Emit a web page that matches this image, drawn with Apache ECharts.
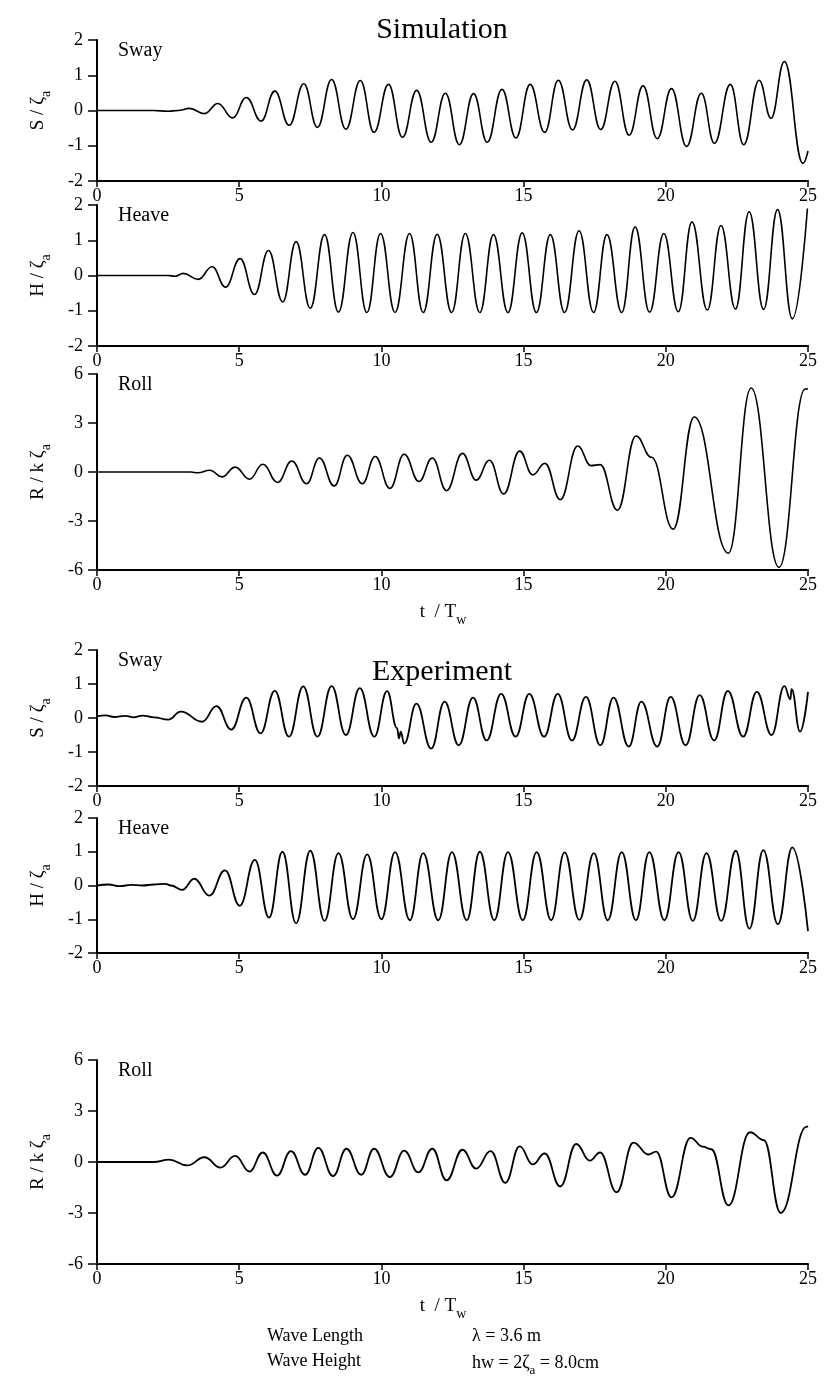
<!DOCTYPE html>
<html>
<head>
<meta charset="utf-8">
<script src="https://cdn.jsdelivr.net/npm/echarts@6/dist/echarts.min.js"></script>
<style>
  html, body { margin: 0; padding: 0; background: #fff; }
  #chart { width: 828px; height: 1386px; }
</style>
</head>
<body>
<div id="chart"></div>
<script>
// time axis t / Tw
const tTicks = { min: 0, max: 25, interval: 5 };

// peaks / troughs, [t/Tw, value]
const simSway = [
  [0, 0], [2.0, 0], [2.5, -0.02], [2.85, 0], [3.25, 0.06], [3.78, -0.09], [4.25, 0.2], [4.77, -0.21],
  [5.25, 0.37], [5.77, -0.3], [6.25, 0.55], [6.76, -0.42], [7.27, 0.76], [7.75, -0.48], [8.25, 0.88],
  [8.75, -0.53], [9.26, 0.85], [9.74, -0.62], [10.25, 0.74], [10.74, -0.76], [11.24, 0.57], [11.75, -0.9],
  [12.25, 0.49], [12.74, -0.97], [13.24, 0.48], [13.72, -0.9], [14.24, 0.6], [14.73, -0.78], [15.23, 0.74],
  [15.74, -0.62], [16.22, 0.86], [16.72, -0.55], [17.22, 0.87], [17.71, -0.54], [18.21, 0.83], [18.71, -0.7],
  [19.2, 0.7], [19.7, -0.8], [20.2, 0.62], [20.73, -1.02], [21.25, 0.49], [21.71, -0.93], [22.27, 0.74],
  [22.74, -0.97], [23.28, 0.86], [23.7, -0.22], [24.17, 1.39], [24.82, -1.5], [25, -1.15]
];
const simHeave = [
  [0, 0], [2.5, 0], [2.75, -0.02], [3.03, 0.06], [3.56, -0.11], [4.05, 0.25], [4.52, -0.33], [5.03, 0.48],
  [5.54, -0.54], [6.03, 0.71], [6.53, -0.75], [7.0, 0.96], [7.5, -0.93], [8.0, 1.16], [8.49, -1.04],
  [9.0, 1.22], [9.49, -1.05], [9.97, 1.19], [10.48, -1.05], [10.99, 1.19], [11.47, -1.05], [11.96, 1.17],
  [12.47, -1.05], [12.95, 1.19], [13.46, -1.05], [13.94, 1.16], [14.45, -1.05], [14.95, 1.21], [15.45, -1.05],
  [15.94, 1.16], [16.44, -1.05], [16.95, 1.27], [17.46, -1.05], [17.93, 1.16], [18.45, -1.05], [18.92, 1.38],
  [19.43, -1.04], [19.93, 1.19], [20.44, -1.03], [20.92, 1.52], [21.46, -0.98], [21.94, 1.42], [22.45, -0.95],
  [22.93, 1.81], [23.44, -0.96], [23.93, 1.87], [24.45, -1.23], [24.98, 1.9]
];
const simRoll = [
  [0, 0], [3.3, 0], [3.55, -0.05], [3.97, 0.11], [4.39, -0.3], [4.86, 0.3], [5.36, -0.44], [5.83, 0.47],
  [6.35, -0.64], [6.85, 0.67], [7.37, -0.72], [7.82, 0.86], [8.34, -0.86], [8.8, 1.03], [9.33, -0.72],
  [9.78, 0.95], [10.3, -1.0], [10.8, 1.09], [11.32, -0.58], [11.79, 0.86], [12.29, -1.14], [12.85, 1.14],
  [13.33, -0.5], [13.8, 0.72], [14.3, -1.34], [14.86, 1.28], [15.32, -0.17], [15.75, 0.53], [16.29, -1.7],
  [16.9, 1.59], [17.37, 0.39], [17.69, 0.45], [18.3, -2.34], [18.95, 2.2], [19.5, 0.9], [20.26, -3.5],
  [21.0, 3.37], [22.2, -4.97], [23.0, 5.14], [23.98, -5.84], [24.9, 5.08], [25, 5.1]
];
const expSway = [
  [0, 0.05], [0.3, 0.08], [0.6, 0.03], [1.0, 0.06], [1.3, 0.02], [1.6, 0.07], [2.0, 0.02], [2.5, -0.05],
  [2.95, 0.19], [3.7, -0.11], [4.2, 0.35], [4.72, -0.34], [5.25, 0.6], [5.75, -0.45], [6.25, 0.8],
  [6.75, -0.55], [7.25, 0.93], [7.75, -0.55], [8.25, 0.94], [8.75, -0.5], [9.24, 0.88], [9.75, -0.55],
  [10.2, 0.79], [10.55, -0.3], [10.62, -0.6], [10.68, -0.4], [10.8, -0.75], [11.23, 0.42], [11.75, -0.9],
  [12.22, 0.48], [12.72, -0.8], [13.22, 0.6], [13.7, -0.66], [14.21, 0.71], [14.72, -0.55], [15.2, 0.71],
  [15.72, -0.55], [16.2, 0.71], [16.7, -0.66], [17.19, 0.62], [17.7, -0.8], [18.16, 0.6], [18.7, -0.84],
  [19.14, 0.48], [19.7, -0.84], [20.17, 0.62], [20.7, -0.8], [21.19, 0.67], [21.7, -0.66], [22.18, 0.8],
  [22.72, -0.55], [23.2, 0.77], [23.72, -0.5], [24.17, 0.94], [24.38, 0.55], [24.42, 0.85], [24.72, -0.4],
  [25, 0.77]
];
const expHeave = [
  [0, 0], [0.4, 0.03], [0.8, -0.02], [1.2, 0.02], [1.6, 0], [2.0, 0.03], [2.4, 0.05], [2.6, 0],
  [3.0, -0.13], [3.42, 0.2], [3.95, -0.3], [4.5, 0.45], [5.02, -0.6], [5.55, 0.76], [6.05, -0.95],
  [6.52, 1.0], [7.0, -1.12], [7.5, 1.03], [8.0, -1.05], [8.49, 0.96], [9.0, -1.0], [9.5, 0.92], [10.0, -1.0],
  [10.48, 0.99], [11.0, -1.03], [11.47, 0.96], [12.0, -1.03], [12.48, 0.99], [13.0, -1.03], [13.46, 1.0],
  [13.97, -1.03], [14.45, 0.99], [14.97, -1.03], [15.46, 0.99], [15.97, -1.03], [16.44, 0.98], [16.96, -1.02],
  [17.47, 0.96], [17.96, -1.03], [18.45, 0.99], [18.95, -1.03], [19.42, 0.99], [19.95, -1.03], [20.45, 0.99],
  [20.95, -1.05], [21.43, 0.96], [21.95, -1.05], [22.46, 1.03], [22.94, -1.28], [23.43, 1.05], [23.94, -1.15],
  [24.45, 1.13], [25, -1.35]
];
const expRoll = [
  [0, 0], [2.0, 0], [2.53, 0.14], [3.17, -0.2], [3.78, 0.28], [4.34, -0.33], [4.86, 0.36], [5.36, -0.56],
  [5.83, 0.56], [6.33, -0.8], [6.82, 0.64], [7.32, -0.75], [7.78, 0.83], [8.3, -0.83], [8.77, 0.78],
  [9.29, -0.75], [9.74, 0.78], [10.3, -0.89], [10.8, 0.67], [11.3, -0.61], [11.79, 0.78], [12.29, -1.08],
  [12.85, 0.72], [13.33, -0.39], [13.84, 0.64], [14.36, -1.22], [14.86, 0.92], [15.32, -0.14], [15.74, 0.5],
  [16.29, -1.44], [16.85, 1.06], [17.33, 0.08], [17.69, 0.56], [18.27, -1.78], [18.86, 1.14], [19.39, 0.44],
  [19.66, 0.61], [20.2, -2.08], [20.87, 1.42], [21.3, 0.9], [21.6, 0.75], [22.2, -2.55], [22.96, 1.75],
  [23.45, 1.28], [24.04, -3.0], [24.95, 2.08], [25, 2.1]
];

const panelNames = ['Sway', 'Heave', 'Roll', 'Sway', 'Heave', 'Roll'];
const axisNames = ['S / ζ', 'H / ζ', 'R / k ζ', 'S / ζ', 'H / ζ', 'R / k ζ'];
const yRanges = [[-2, 2, 1], [-2, 2, 1], [-6, 6, 3], [-2, 2, 1], [-2, 2, 1], [-6, 6, 3]];
const allData = [simSway, simHeave, simRoll, expSway, expHeave, expRoll];

const SERIF = '"Liberation Serif", "DejaVu Serif", serif';
const gridBoxes = [[40, 141], [205, 141], [374, 196], [650, 136], [818, 135], [1060, 204]];

const subRich = {
  n: { fontFamily: SERIF, fontSize: 19, color: '#000', lineHeight: 22 },
  s: { fontFamily: SERIF, fontSize: 14, color: '#000', lineHeight: 14, padding: [12, 0, 0, 0], verticalAlign: 'top' }
};

const option = {
  animation: false,
  backgroundColor: '#fff',
  grid: gridBoxes.map(g => ({ left: 97, right: 20, top: g[0], height: g[1] })),
  xAxis: allData.map((d, i) => ({
    gridIndex: i, type: 'value', min: tTicks.min, max: tTicks.max, interval: tTicks.interval,
    axisLine: { onZero: false, lineStyle: { color: '#000', width: 2 } },
    axisTick: { length: 6, lineStyle: { color: '#000', width: 1.5 } },
    axisLabel: { color: '#000', fontSize: 18, fontFamily: SERIF, margin: 6 },
    splitLine: { show: false }
  })),
  yAxis: allData.map((d, i) => ({
    gridIndex: i, type: 'value', min: yRanges[i][0], max: yRanges[i][1], interval: yRanges[i][2],
    axisLine: { show: true, lineStyle: { color: '#000', width: 2 } },
    axisTick: { show: true, length: 9, lineStyle: { color: '#000', width: 1.5 } },
    axisLabel: { color: '#000', fontSize: 18, fontFamily: SERIF, margin: 14 },
    splitLine: { show: false },
    name: '{n|' + axisNames[i] + '}{s|a}',
    nameLocation: 'middle', nameRotate: 90, nameGap: 48,
    nameTextStyle: { rich: subRich }
  })),
  title: panelNames.map((p, i) => ({
    text: p, left: 118, top: gridBoxes[i][0] + 1, padding: 0,
    textStyle: { fontFamily: SERIF, fontSize: 20, fontWeight: 'normal', color: '#000' }
  })),
  graphic: [
    { type: 'text', x: 442, y: 30, style: { text: 'Simulation', font: '30px ' + SERIF, fill: '#000', align: 'center', verticalAlign: 'middle' } },
    { type: 'text', x: 442, y: 672, style: { text: 'Experiment', font: '30px ' + SERIF, fill: '#000', align: 'center', verticalAlign: 'middle' } },
    { type: 'text', x: 443, y: 612, style: { text: '{n|t  / T}{s|w}', rich: subRich, align: 'center', verticalAlign: 'middle' } },
    { type: 'text', x: 443, y: 1306, style: { text: '{n|t  / T}{s|w}', rich: subRich, align: 'center', verticalAlign: 'middle' } },
    { type: 'text', x: 267, y: 1336, style: { text: 'Wave Length', font: '18px ' + SERIF, fill: '#000', verticalAlign: 'middle' } },
    { type: 'text', x: 472, y: 1336, style: { text: 'λ = 3.6 m', font: '18px ' + SERIF, fill: '#000', verticalAlign: 'middle' } },
    { type: 'text', x: 267, y: 1361, style: { text: 'Wave Height', font: '18px ' + SERIF, fill: '#000', verticalAlign: 'middle' } },
    { type: 'text', x: 472, y: 1363, style: {
      text: '{n|hw = 2ζ}{s|a}{n| = 8.0cm}',
      rich: {
        n: { fontFamily: SERIF, fontSize: 18, color: '#000', lineHeight: 20 },
        s: { fontFamily: SERIF, fontSize: 13, color: '#000', lineHeight: 13, padding: [11, 0, 0, 0], verticalAlign: 'top' }
      },
      verticalAlign: 'middle'
    } }
  ],
  series: allData.map((d, i) => ({
    type: 'line', xAxisIndex: i, yAxisIndex: i, data: d,
    showSymbol: false, smooth: 0.45, smoothMonotone: 'x',
    lineStyle: { color: '#000', width: i < 3 ? 1.6 : 1.8 }
  }))
};

const chart = echarts.init(document.getElementById('chart'));
chart.setOption(option);
window.addEventListener('resize', () => chart.resize());
</script>
</body>
</html>
